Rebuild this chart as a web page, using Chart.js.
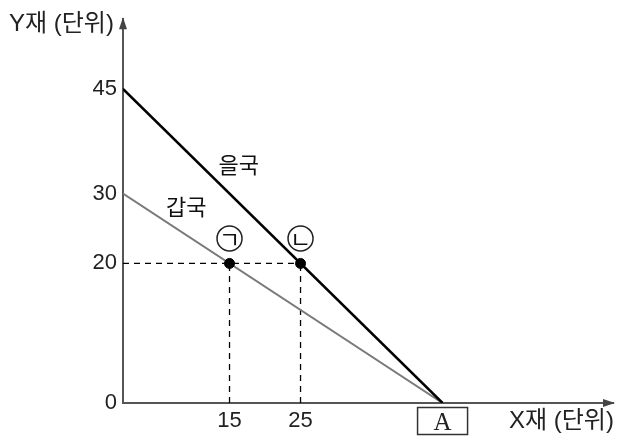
<!DOCTYPE html>
<html><head><meta charset="utf-8">
<script src="https://cdn.jsdelivr.net/npm/chart.js@4/dist/chart.umd.min.js"></script>
<style>html,body{margin:0;padding:0;background:#fff}#wrap{width:623px;height:440px;position:relative}</style>
</head><body><div id="wrap"><canvas id="c"></canvas></div>
<script>
// ---- data ----
const lineX = [0, 45];          // x-values of both lines (45 = point A)
const eulY = [45, 0];           // 을국
const gapY = [30, 0];           // 갑국
const pointX = [15, 25];        // ㉠, ㉡
const pointY = [20, 20];
const pointTags = ['ㄱ', 'ㄴ'];  // drawn inside circles (㉠, ㉡)
const countryNames = ['을국', '갑국'];
const xTicks = [15, 25, 45];
const xTickLabels = ['15', '25', 'A'];
const yTicks = [0, 20, 30, 45];
const xTitle = 'X재 (단위)';
const yTitle = 'Y재 (단위)';

const SANS = "'Liberation Sans','Noto Sans CJK KR',sans-serif";
const KR = "'Noto Sans CJK KR','Liberation Sans',sans-serif";
const SERIF = "'Liberation Serif','DejaVu Serif',serif";

const pts = (xs, ys) => xs.map((x, i) => ({x, y: ys[i]}));

const decor = {
  id: 'decor',
  afterDraw(chart) {
    const {ctx, chartArea: a, scales: {x, y}} = chart;
    ctx.save();
    // arrowheads
    ctx.fillStyle = '#444';
    ctx.beginPath();
    ctx.moveTo(a.left, a.top - 2);
    ctx.lineTo(a.left - 4, a.top + 10);
    ctx.lineTo(a.left + 4, a.top + 10);
    ctx.closePath(); ctx.fill();
    ctx.beginPath();
    ctx.moveTo(a.right + 2, a.bottom);
    ctx.lineTo(a.right - 10, a.bottom - 4);
    ctx.lineTo(a.right - 10, a.bottom + 4);
    ctx.closePath(); ctx.fill();
    // titles
    ctx.fillStyle = '#222';
    ctx.font = '24px ' + SANS;
    ctx.textBaseline = 'middle';
    ctx.textAlign = 'left';
    ctx.fillText(yTitle, 9, 24);
    ctx.fillText(xTitle, 509, 421);
    // box around A
    const ax = x.getPixelForValue(xTicks[2]);
    ctx.strokeStyle = '#333';
    ctx.lineWidth = 1.5;
    ctx.strokeRect(ax - 25, a.bottom + 4.5, 50, 27);
    // country labels
    ctx.font = '22px ' + KR;
    ctx.textAlign = 'center';
    ctx.fillStyle = '#111';
    ctx.fillText(countryNames[0], x.getPixelForValue(16.3), y.getPixelForValue(34.2));
    ctx.fillText(countryNames[1], x.getPixelForValue(8.9), y.getPixelForValue(28.2));
    // circled tags
    ctx.lineWidth = 1.5;
    ctx.strokeStyle = '#222';
    ctx.font = '23px ' + KR;
    pointX.forEach((px, i) => {
      const cx = x.getPixelForValue(px);
      const cy = y.getPixelForValue(pointY[i]) - 25;
      ctx.beginPath();
      ctx.arc(cx, cy, 12.5, 0, Math.PI * 2);
      ctx.stroke();
      ctx.fillText(pointTags[i], cx, cy + 1);
    });
    ctx.restore();
  }
};

new Chart(document.getElementById('c'), {
  type: 'scatter',
  data: {
    datasets: [
      {data: pts(pointX, pointY), pointRadius: 5, pointBackgroundColor: '#000', pointBorderColor: '#000', showLine: false, order: 0},
      {data: pts(lineX, eulY), showLine: true, borderColor: '#000', borderWidth: 2.5, pointRadius: 0, order: 1},
      {data: pts(lineX, gapY), showLine: true, borderColor: '#7a7a7a', borderWidth: 2, pointRadius: 0, order: 1},
      {data: [{x: 0, y: pointY[1]}, {x: pointX[1], y: pointY[1]}], showLine: true, borderColor: '#000', borderWidth: 1.3, borderDash: [6, 5], pointRadius: 0, order: 2},
      {data: [{x: pointX[0], y: 0}, {x: pointX[0], y: pointY[0]}], showLine: true, borderColor: '#000', borderWidth: 1.3, borderDash: [6, 5], pointRadius: 0, order: 2},
      {data: [{x: pointX[1], y: 0}, {x: pointX[1], y: pointY[1]}], showLine: true, borderColor: '#000', borderWidth: 1.3, borderDash: [6, 5], pointRadius: 0, order: 2}
    ]
  },
  options: {
    responsive: true, maintainAspectRatio: false, animation: false,
    layout: {padding: {left: 0, right: 10, top: 13, bottom: 0}},
    plugins: {legend: {display: false}, tooltip: {enabled: false}},
    scales: {
      x: {
        type: 'linear', min: 0, max: 69,
        grid: {display: false, drawTicks: false},
        border: {color: '#555', width: 2},
        afterBuildTicks: s => { s.ticks = xTicks.map(v => ({value: v})); },
        afterFit: s => { s.height = 37; },
        ticks: {
          autoSkip: false, maxRotation: 0, padding: 5, color: '#222',
          callback: (v, i) => xTickLabels[i],
          font: c => c.index === 2 ? {family: SERIF, size: 25} : {family: SANS, size: 22}
        }
      },
      y: {
        type: 'linear', min: 0, max: 55,
        grid: {display: false, drawTicks: false},
        border: {color: '#555', width: 2},
        afterBuildTicks: s => { s.ticks = yTicks.map(v => ({value: v})); },
        afterFit: s => { s.width = 123; },
        ticks: {padding: 6, color: '#222', font: {family: SANS, size: 22}}
      }
    }
  },
  plugins: [decor]
});
</script>
</body></html>
